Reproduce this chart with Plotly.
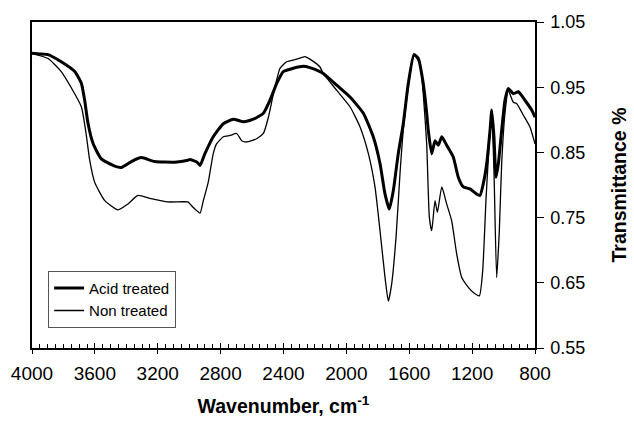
import plotly.graph_objects as go

acid_wn = [4000, 3950, 3898, 3814, 3728, 3686, 3665, 3644, 3612, 3559, 3474, 3432, 3368, 3305,
           3219, 3092, 3008, 2995, 2950, 2931, 2900, 2847, 2783, 2719, 2656, 2592, 2528, 2486,
           2443, 2401, 2338, 2274, 2232, 2168, 2147, 2061, 1977, 1892, 1829, 1786, 1754, 1727,
           1701, 1670, 1638, 1606, 1570, 1542, 1511, 1500, 1489, 1479, 1457, 1436, 1415, 1393,
           1362, 1320, 1288, 1256, 1214, 1171, 1150, 1129, 1107, 1086, 1075, 1061, 1048, 1033,
           1012, 991, 970, 938, 906, 864, 821, 800]
acid_t = [1.002, 1.001, 1.0, 0.989, 0.974, 0.956, 0.93, 0.895, 0.864, 0.84, 0.829, 0.827, 0.836, 0.842,
          0.836, 0.835, 0.838, 0.839, 0.835, 0.83, 0.848, 0.874, 0.894, 0.901, 0.897, 0.901, 0.91, 0.93,
          0.956, 0.974, 0.979, 0.982, 0.98, 0.974, 0.971, 0.953, 0.935, 0.91, 0.874, 0.833, 0.786, 0.763,
          0.792, 0.848, 0.894, 0.956, 1.0, 0.994, 0.956, 0.935, 0.91, 0.884, 0.848, 0.868, 0.861, 0.874,
          0.861, 0.843, 0.812, 0.797, 0.794, 0.786, 0.784, 0.802, 0.833, 0.884, 0.915, 0.874, 0.812, 0.833,
          0.884, 0.93, 0.948, 0.94, 0.943, 0.93, 0.915, 0.904]

non_wn = [4000, 3898, 3814, 3752, 3686, 3656, 3633, 3601, 3537, 3453, 3389, 3326, 3243, 3135,
          3008, 2995, 2963, 2931, 2910, 2879, 2847, 2826, 2783, 2740, 2698, 2666, 2634, 2571,
          2528, 2496, 2464, 2422, 2380, 2316, 2263, 2232, 2168, 2147, 2061, 1977, 1913, 1860,
          1818, 1786, 1754, 1733, 1712, 1684, 1659, 1638, 1606, 1570, 1532, 1511, 1489, 1472,
          1457, 1436, 1421, 1393, 1362, 1330, 1298, 1266, 1224, 1192, 1154, 1133, 1111, 1090,
          1075, 1061, 1044, 1027, 1012, 991, 970, 938, 917, 874, 832, 800]
non_t = [1.002, 0.994, 0.974, 0.95, 0.92, 0.879, 0.838, 0.804, 0.776, 0.762, 0.771, 0.784, 0.779, 0.774,
         0.774, 0.771, 0.763, 0.757, 0.776, 0.804, 0.848, 0.863, 0.874, 0.876, 0.879, 0.868, 0.866, 0.871,
         0.879, 0.904, 0.94, 0.979, 0.989, 0.993, 0.997, 0.993, 0.981, 0.971, 0.945, 0.92, 0.889, 0.848,
         0.797, 0.73, 0.658, 0.622, 0.648, 0.72, 0.817, 0.884, 0.95, 1.0, 0.986, 0.94, 0.863, 0.75,
         0.73, 0.776, 0.758, 0.797, 0.771, 0.745, 0.694, 0.658, 0.643, 0.635, 0.63, 0.668, 0.781, 0.868,
         0.91, 0.822, 0.658, 0.73, 0.833, 0.91, 0.945, 0.927, 0.925, 0.907, 0.889, 0.863]

x_ticks = [4000, 3600, 3200, 2800, 2400, 2000, 1600, 1200, 800]
y_ticks = [0.55, 0.65, 0.75, 0.85, 0.95, 1.05]

FONT = "Liberation Sans, Arial, sans-serif"

fig = go.Figure()
fig.add_trace(go.Scatter(x=acid_wn, y=acid_t, mode="lines", name="Acid treated",
                         line=dict(color="black", width=3, shape="spline", smoothing=0.5)))
fig.add_trace(go.Scatter(x=non_wn, y=non_t, mode="lines", name="Non treated",
                         line=dict(color="black", width=1.3, shape="spline", smoothing=0.5)))

fig.update_layout(
    width=634, height=421,
    margin=dict(l=32, r=99, t=22, b=73),
    paper_bgcolor="white", plot_bgcolor="white",
    font=dict(family=FONT, size=16, color="black"),
    showlegend=True,
    legend=dict(x=0.032, y=0.237, xanchor="left", yanchor="top",
                bordercolor="#555", borderwidth=1, bgcolor="white",
                font=dict(size=15), tracegroupgap=4),
    xaxis=dict(range=[4000, 800], tickvals=x_ticks, ticktext=[str(v) for v in x_ticks],
               showline=True, linecolor="black", linewidth=1.5, mirror=True, automargin=False,
               ticks="inside", ticklen=5, tickcolor="black", tickwidth=1.2,
               minor=dict(dtick=50, ticks="inside", ticklen=4, tickcolor="black", tickwidth=1),
               showgrid=False, zeroline=False,
               tickfont=dict(size=19), ticklabelstandoff=7,
               title=dict(text="<b>Wavenumber, cm<sup>-1</sup></b>", font=dict(size=19.5), standoff=17)),
    xaxis2=dict(range=[4000, 800], tickvals=x_ticks, showticklabels=False, overlaying="x",
                side="bottom", ticks="outside", ticklen=5, tickcolor="black", tickwidth=1.2,
                showgrid=False, zeroline=False, showline=False, automargin=False),
    yaxis=dict(range=[0.55, 1.05], tickvals=y_ticks, ticktext=[f"{v:.2f}" for v in y_ticks],
               side="right", showline=True, linecolor="black", linewidth=1.5, mirror=True,
               automargin=False,
               ticks="outside", ticklen=7, tickcolor="black", tickwidth=1.2,
               showgrid=False, zeroline=False, tickfont=dict(size=18), ticklabelstandoff=3,
               title=dict(text="<b>Transmittance %</b>", font=dict(size=19.5), standoff=28)),
)
fig.add_trace(go.Scatter(x=[4000], y=[0.55], xaxis="x2", mode="markers",
                         marker=dict(opacity=0), showlegend=False, hoverinfo="skip"))

fig.write_html("out.html")
